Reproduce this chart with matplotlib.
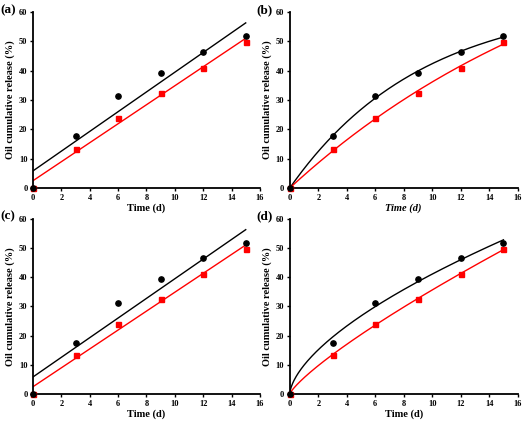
import numpy as np
import matplotlib
matplotlib.use("Agg")
import matplotlib.pyplot as plt

plt.rcParams['font.family'] = ['Liberation Serif', 'DejaVu Serif']
plt.rcParams['font.weight'] = 'bold'

time_d = [0, 3, 6, 9, 12, 15]
black_release = [0, 17.6, 31.3, 39.3, 46.5, 51.7]
red_release = [0, 13.4, 24.0, 32.5, 41.0, 49.7]
panel_labels = ["(a)", "(b)", "(c)", "(d)"]
models = ["linear", "first", "linear", "power"]


def fit_curve(model, t, y, tt):
    t = np.asarray(t, float)
    y = np.asarray(y, float)
    if model == "linear":
        p = np.polyfit(t, y, 1)
        return np.polyval(p, tt)
    if model == "first":
        # Q = Qmax (1 - exp(-k t)), grid search on k
        best = None
        for k in np.linspace(0.005, 0.5, 2000):
            f = 1 - np.exp(-k * t)
            q = (f @ y) / (f @ f)
            err = np.sum((q * f - y) ** 2)
            if best is None or err < best[0]:
                best = (err, k, q)
        return best[2] * (1 - np.exp(-best[1] * tt))
    # power law Q = k t^n
    best = None
    for n in np.linspace(0.1, 1.5, 2000):
        f = t ** n
        k = (f @ y) / (f @ f)
        err = np.sum((k * f - y) ** 2)
        if best is None or err < best[0]:
            best = (err, n, k)
    return best[2] * tt ** best[1]


fig = plt.figure(figsize=(5.24, 4.22), dpi=100)
boxes = [
    [0.063, 0.5545, 0.433, 0.417],
    [0.553, 0.5545, 0.435, 0.417],
    [0.063, 0.0664, 0.433, 0.415],
    [0.553, 0.0664, 0.435, 0.415],
]
lab_pos = [(0.0, 0.975), (0.489, 0.975), (0.0, 0.487), (0.489, 0.487)]

tt = np.linspace(0, 15, 300)
for i in range(4):
    ax = fig.add_axes(boxes[i])
    ax.plot(tt, fit_curve(models[i], time_d, black_release, tt), color='black', lw=1.0)
    ax.plot(tt, fit_curve(models[i], time_d, red_release, tt), color='red', lw=1.0)
    ax.plot(time_d, red_release, 's', color='red', ms=3.6, clip_on=False, zorder=3)
    ax.plot(time_d, black_release, 'o', color='black', ms=3.8, clip_on=False, zorder=4)
    ax.set_xlim(0, 16)
    ax.set_ylim(0, 60)
    ax.set_xticks(range(0, 17, 2))
    ax.set_yticks(range(0, 61, 10))
    for s in ['top', 'right']:
        ax.spines[s].set_visible(False)
    for s in ['left', 'bottom']:
        ax.spines[s].set_linewidth(1.3)
    ax.tick_params(direction='out', length=2.5, width=1.0, labelsize=6, pad=1.5)
    for lab in ax.get_xticklabels() + ax.get_yticklabels():
        lab.set_fontweight('bold')
    style = 'italic' if i == 1 else 'normal'
    ax.set_xlabel("Time (d)", fontsize=7.5, fontweight='bold', style=style, labelpad=1)
    ax.set_ylabel("Oil cumulative release (%)", fontsize=7.5, fontweight='bold', labelpad=3)
    fig.text(lab_pos[i][0], lab_pos[i][1], panel_labels[i], fontsize=9.5,
             fontweight='bold', va='center', ha='left')

fig.savefig("out.png", dpi=100)
